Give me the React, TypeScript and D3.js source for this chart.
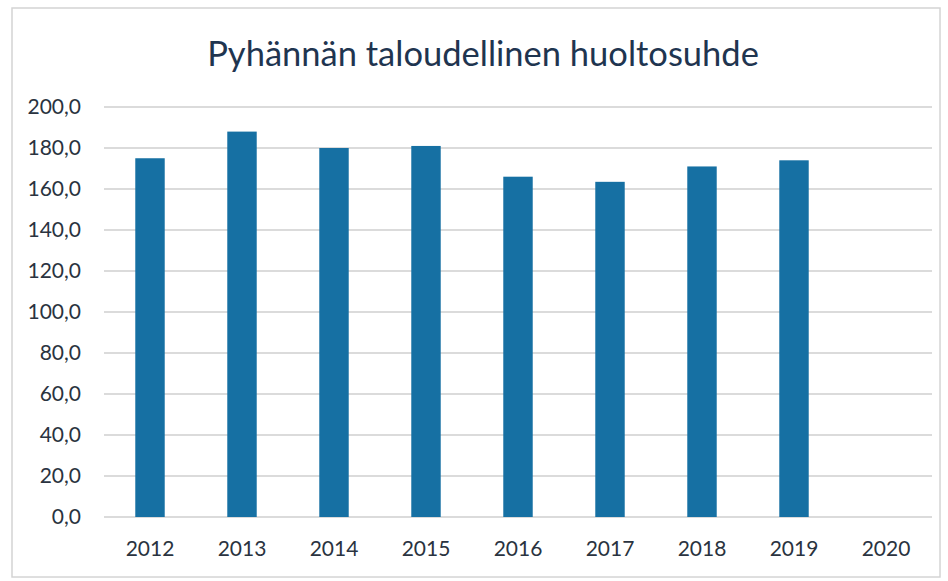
import React from "react";
import * as d3 from "d3";

const categories = ["2012", "2013", "2014", "2015", "2016", "2017", "2018", "2019", "2020"];
const values: (number | null)[] = [175, 188, 180, 181, 166, 163.5, 171, 174, null];
const yTicks = [0, 20, 40, 60, 80, 100, 120, 140, 160, 180, 200];
const title = "Pyhännän taloudellinen huoltosuhde";

export default function App() {
  const W = 948, H = 581;
  const left = 104, right = 932, top = 107, bottom = 517;
  const x = d3.scaleBand<string>().domain(categories).range([left, right]).paddingInner(0.68).paddingOuter(0.34);
  const y = d3.scaleLinear().domain([0, 200]).range([bottom, top]);
  const fmt = (v: number) => v.toFixed(1).replace(".", ",");
  const font = "Lato, 'Open Sans', sans-serif";
  return (
    <svg width={W} height={H} style={{ position: "absolute", left: 0, top: 0, background: "#fff" }}>
      <rect x={12} y={8} width={928} height={569} fill="#fff" stroke="#d4d4d4" strokeWidth={1.5} />
      <text x={483} y={66} textAnchor="middle" fontFamily={font} fontSize={34.5} fill="#1f3550">{title}</text>
      {yTicks.map((t) => (
        <g key={t}>
          <line x1={left} x2={right} y1={y(t)} y2={y(t)} stroke="#cfcfcf" strokeWidth={1.5} />
          <text x={81} y={y(t)} dy="0.35em" textAnchor="end" fontFamily={font} fontSize={21} fill="#2a3340">{fmt(t)}</text>
        </g>
      ))}
      {categories.map((c, i) => {
        const v = values[i];
        return (
          <g key={c}>
            {v != null && (
              <rect x={x(c)} y={y(v)} width={x.bandwidth()} height={y(0) - y(v)} fill="#1670a3" />
            )}
            <text x={(x(c) ?? 0) + x.bandwidth() / 2} y={556} textAnchor="middle" fontFamily={font} fontSize={21} fill="#2a3340">{c}</text>
          </g>
        );
      })}
    </svg>
  );
}
